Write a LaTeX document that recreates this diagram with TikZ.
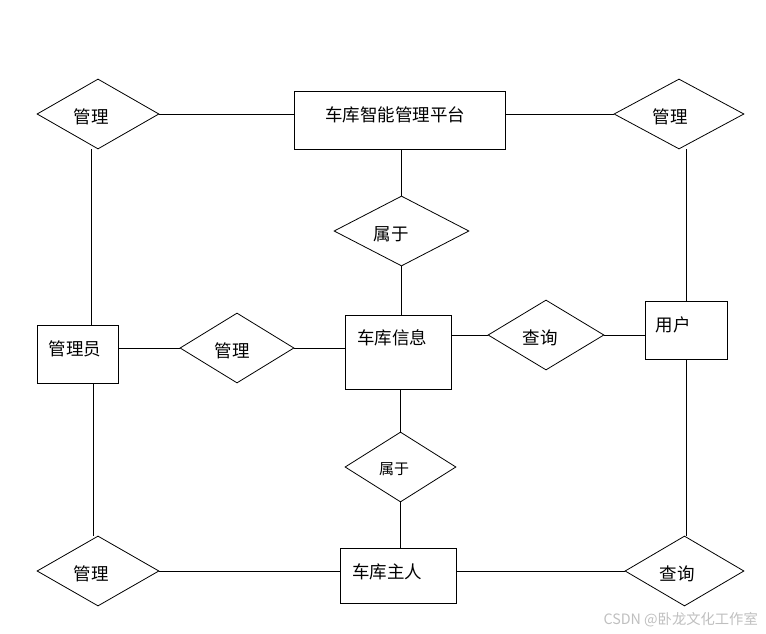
\documentclass[tikz,border=0pt]{standalone}
\usepackage{fontspec}
\newfontfamily\cjk{Noto Sans CJK SC}
\usetikzlibrary{shapes.geometric}
\begin{document}
\begin{tikzpicture}[x=1pt,y=-1pt,
  ent/.style={draw, line width=0.8pt, inner sep=0pt, rectangle},
  rel/.style={draw, line width=0.8pt, inner sep=0pt, diamond},
  lab/.style={inner sep=0pt, font=\cjk\fontsize{17.5}{20}\selectfont},
  smlab/.style={inner sep=0pt, font=\cjk\fontsize{15}{17}\selectfont},
  conn/.style={line width=0.8pt}]
\useasboundingbox (0,0) rectangle (766,634);
% shapes
\node[rel, minimum width=122pt, minimum height=70pt] (dTL) at (98,114) {};
\node[ent, minimum width=211pt, minimum height=58pt] (plat) at (399.5,120) {};
\node[rel, minimum width=130pt, minimum height=70pt] (dTR) at (679,114) {};
\node[rel, minimum width=135pt, minimum height=70pt] (dBelA) at (401.5,231) {};
\node[ent, minimum width=106pt, minimum height=74pt] (info) at (398,352) {};
\node[ent, minimum width=81pt, minimum height=58pt] (adm) at (77.5,354) {};
\node[rel, minimum width=114pt, minimum height=70pt] (dMid) at (237,348) {};
\node[rel, minimum width=116pt, minimum height=70pt] (dQA) at (546,335) {};
\node[ent, minimum width=82pt, minimum height=58pt] (user) at (686,330) {};
\node[rel, minimum width=111pt, minimum height=70pt] (dBelB) at (400.5,467) {};
\node[ent, minimum width=116pt, minimum height=55pt] (owner) at (398,575.5) {};
\node[rel, minimum width=122pt, minimum height=70pt] (dBL) at (98,571) {};
\node[rel, minimum width=119pt, minimum height=70pt] (dBR) at (684.5,571) {};
% labels
\node[lab] (tPlat) at (395,115) {车库智能管理平台};
\node[lab] (tTL) at (91,117) {管理};
\node[lab] (tTR) at (670,117) {管理};
\node[lab] (tBelA) at (391,234) {属于};
\node[lab] (tInfo) at (392,338) {车库信息};
\node[lab] (tAdm) at (75,349) {管理员};
\node[lab] (tMid) at (232,351) {管理};
\node[lab] (tQA) at (540,338) {查询};
\node[lab] (tUser) at (673,325) {用户};
\node[smlab] (tBelB) at (394,469) {属于};
\node[lab] (tOwner) at (387,572) {车库主人};
\node[lab] (tBL) at (91,574) {管理};
\node[lab] (tBR) at (677,574) {查询};
\node[inner sep=0pt, text=black!25, font=\cjk\fontsize{14.3}{16}\selectfont, anchor=east] (wm) at (758,620) {CSDN @卧龙文化工作室};
% connectors
\draw[conn] (dTL.east) -- ([yshift=6pt]plat.west);
\draw[conn] ([yshift=6pt]plat.east) -- (dTR.west);
\draw[conn] (plat.south -| dBelA.north) -- (dBelA.north);
\draw[conn] (dBelA.south) -- (info.north -| dBelA.south);
\draw[conn] ([xshift=-7pt]dTL.south) -- ([xshift=-7pt]dTL.south |- adm.north);
\draw[conn] ([yshift=6pt]adm.east) -- (dMid.west);
\draw[conn] (dMid.east) -- ([yshift=4pt]info.west);
\draw[conn] ([yshift=17pt]info.east) -- (dQA.west);
\draw[conn] (dQA.east) -- (dQA.east -| user.west);
\draw[conn] (user.north) -- (user.north |- dTR.south);
\draw[conn] (user.south) -- (user.south |- dBR.north);
\draw[conn] ([xshift=15.5pt]adm.south) -- ([xshift=15.5pt]adm.south |- dBL.north);
\draw[conn] (info.south -| dBelB.north) -- (dBelB.north);
\draw[conn] (dBelB.south) -- (dBelB.south |- owner.north);
\draw[conn] (dBL.east) -- (dBL.east -| owner.west);
\draw[conn] (owner.east |- dBR.west) -- (dBR.west);
\end{tikzpicture}
\end{document}
